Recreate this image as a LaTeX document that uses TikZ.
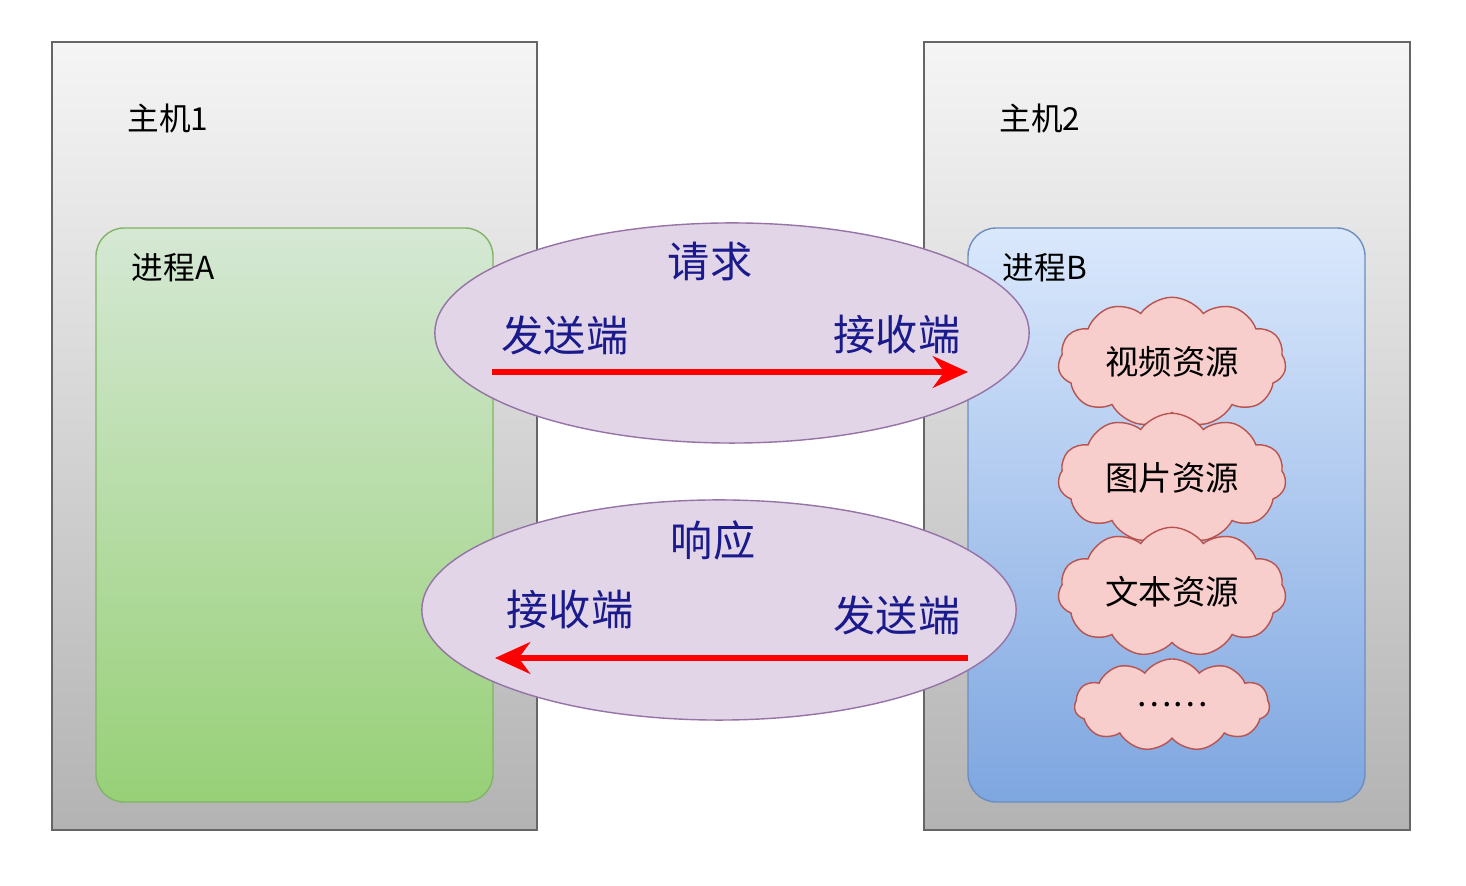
\documentclass[tikz,border=0pt]{standalone}
\usepackage{fontspec}
\setmainfont{Noto Sans CJK SC}
\usetikzlibrary{shapes.symbols,shapes.geometric,arrows.meta}
\definecolor{hostgrayt}{HTML}{F5F5F5}
\definecolor{hostgrayb}{HTML}{B3B3B3}
\definecolor{greent}{HTML}{D5E8D4}
\definecolor{greenb}{HTML}{97D077}
\definecolor{greend}{HTML}{82B366}
\definecolor{bluet}{HTML}{DAE8FC}
\definecolor{blueb}{HTML}{7EA6E0}
\definecolor{blued}{HTML}{6C8EBF}
\definecolor{lilac}{HTML}{E1D5E7}
\definecolor{lilacd}{HTML}{9673A6}
\definecolor{pinkf}{HTML}{F8CECC}
\definecolor{pinkd}{HTML}{B85450}
\definecolor{inktext}{HTML}{1A1A8C}
\tikzset{
  host/.style={draw=gray!80!black, top color=hostgrayt, bottom color=hostgrayb},
  talk/.style={ellipse, draw=lilacd, fill=lilac, minimum width=5.94cm, minimum height=2.2cm},
  side/.style={text=inktext, font=\fontsize{12}{12}\selectfont},
  res/.style={cloud, cloud puffs=11, cloud puff arc=110, aspect=2.2, draw=pinkd, fill=pinkf,
    minimum width=1.95cm, minimum height=0.92cm, font=\fontsize{9.5}{10}\selectfont},
  flow/.style={red, line width=1.6pt, -{Stealth[length=10pt,width=9pt]}}
}
\begin{document}
\begin{tikzpicture}[x=0.01cm, y=-0.01cm]
\useasboundingbox (0,0) rectangle (1466,886);

% hosts
\draw [host] (52,42) rectangle (537,830);
\draw [host] (924,42) rectangle (1410,830);
\node (h1) at (168,118) {\fontsize{9}{9}\selectfont 主机1};
\node (h2) at (1040,118) {\fontsize{9}{9}\selectfont 主机2};

% processes
\draw [rounded corners=8, draw=greend, top color=greent, bottom color=greenb] (96,228) rectangle (493,802);
\draw [rounded corners=8, draw=blued, top color=bluet, bottom color=blueb] (968,228) rectangle (1365,802);
\node (pa) at (173,268) {\fontsize{9}{9}\selectfont 进程A};
\node (pb) at (1045,268) {\fontsize{9}{9}\selectfont 进程B};

% request
\node [talk] (req) at (732,333) {};
\node [side] (reqt) at (710,262) {请求};
\node [side] (reqs) at (565,335) {发送端};
\node [side] (reqr) at (897,335) {接收端};
\coordinate (r1) at (492,372);
\coordinate (r2) at (968,372);
\draw [flow] (r1) -- (r2);

% response
\node [talk] (rsp) at (719,610) {};
\node [side] (rspt) at (713,540) {响应};
\node [side] (rspr) at (570,610) {接收端};
\node [side] (rsps) at (897,615) {发送端};
\coordinate (s1) at (968,658);
\coordinate (s2) at (495,658);
\draw [flow] (s1) -- (s2);

% resources
\node [res] (video) at (1172,362) {视频资源};
\node [res] (image) at (1172,478) {图片资源};
\node [res] (text)  at (1172,592) {文本资源};
\node [res] (more)  at (1172,705) {……};
\end{tikzpicture}
\end{document}
